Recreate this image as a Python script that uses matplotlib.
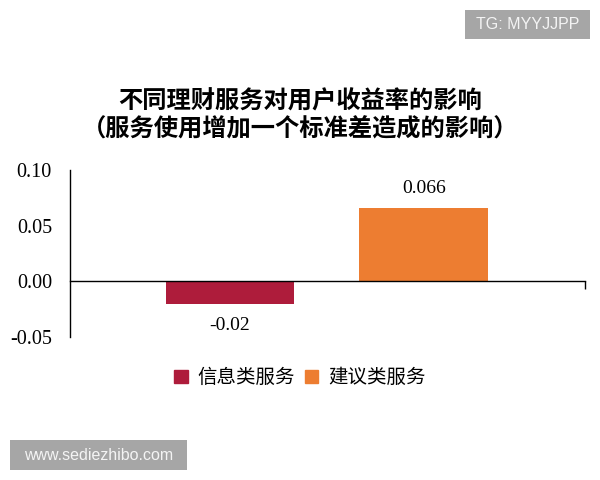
import matplotlib.pyplot as plt
import matplotlib.patches as mpatches

plt.rcParams['font.family'] = ['Noto Sans CJK SC', 'DejaVu Sans']

# data
categories = ["信息类服务", "建议类服务"]
values = [-0.02, 0.066]
value_labels = ["-0.02", "0.066"]
colors = ["#AE1C3B", "#ED7D31"]
yticks = [-0.05, 0.00, 0.05, 0.10]
ytick_labels = ["-0.05", "0.00", "0.05", "0.10"]

title = "不同理财服务对用户收益率的影响\n（服务使用增加一个标准差造成的影响）"

fig = plt.figure(figsize=(6, 4.8), dpi=100)
ax = fig.add_axes([0.1167, 0.298, 0.858, 0.348])

x = list(range(len(categories)))
bars = ax.bar(x, values, width=0.665, color=colors, zorder=2)

x_left, x_right = -0.825, 1.83
ax.set_xlim(x_left, x_right)
ax.set_ylim(-0.05, 0.10)

# value labels
for xi, v, lab in zip(x, values, value_labels):
    off = 0.010 if v > 0 else -0.012
    ax.text(xi, v + off, lab, ha="center", va="bottom" if v > 0 else "top",
            fontsize=14, family="Liberation Serif")

# axes styling
ax.spines["top"].set_visible(False)
ax.spines["right"].set_visible(False)
ax.spines["bottom"].set_position(("data", 0))
ax.spines["left"].set_linewidth(1.0)
ax.spines["bottom"].set_linewidth(1.0)
ax.set_yticks(yticks)
ax.set_yticklabels(ytick_labels, family="Liberation Serif", fontsize=14.5)
ax.tick_params(axis="y", length=0, pad=13)
ax.set_xticks([x_right])
ax.set_xticklabels([""])
ax.tick_params(axis="x", direction="out", length=6, width=1.0)

# title
fig.text(0.5, 0.759, title, ha="center", va="center", fontsize=17.5,
         fontweight="bold", linespacing=1.2)

# legend
handles = [mpatches.Patch(color=c, label=l) for c, l in zip(colors, categories)]
fig.legend(handles=handles, loc="center", bbox_to_anchor=(0.5, 0.213), ncol=2,
           frameon=False, fontsize=14, handlelength=0.7, handleheight=0.7,
           handletextpad=0.5, columnspacing=0.5)

# watermarks
fig.add_artist(mpatches.Rectangle((0.775, 0.91875), 0.2083, 0.0604,
                                  transform=fig.transFigure, fc="#A6A6A6", ec="none"))
fig.text(0.879, 0.949, "TG: MYYJJPP", ha="center", va="center", fontsize=11.5,
         color="#F4F4F4", family="Liberation Sans")
fig.add_artist(mpatches.Rectangle((0.0167, 0.0208), 0.295, 0.0625,
                                  transform=fig.transFigure, fc="#A6A6A6", ec="none"))
fig.text(0.164, 0.052, "www.sediezhibo.com", ha="center", va="center", fontsize=11.5,
         color="#F4F4F4", family="Liberation Sans")

fig.savefig("out.png", dpi=100)
